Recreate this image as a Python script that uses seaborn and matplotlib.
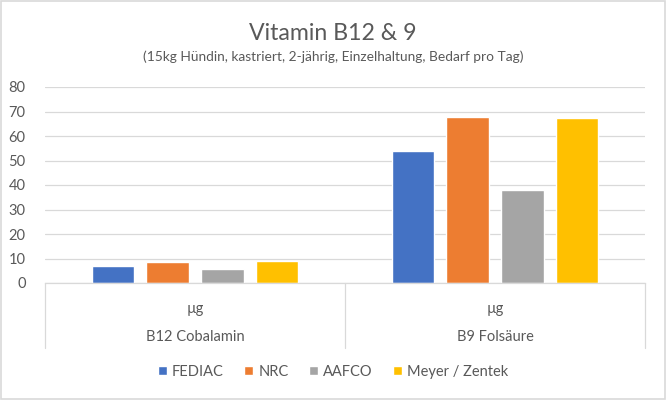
import matplotlib
matplotlib.use("Agg")
import matplotlib.pyplot as plt
import pandas as pd
import seaborn as sns

# data
vitamins = ["B12 Cobalamin", "B9 Folsäure"]
unit = "µg"
sources = ["FEDIAC", "NRC", "AAFCO", "Meyer / Zentek"]
fediac = [6.8, 54.0]
nrc = [8.5, 67.9]
aafco = [5.6, 38.0]
meyer = [8.9, 67.5]
colors = ["#4472C4", "#ED7D31", "#A5A5A5", "#FFC000"]

rows = []
for src, vals in zip(sources, [fediac, nrc, aafco, meyer]):
    for vit, v in zip(vitamins, vals):
        rows.append({"Vitamin": vit, "Quelle": src, "Wert": v})
df = pd.DataFrame(rows)

sns.set_style("white")
plt.rcParams["font.family"] = ["Lato", "DejaVu Sans"]
text_col = "#595959"
grid_col = "#d9d9d9"
fs = 10.5

fig = plt.figure(figsize=(6.66, 4.0), dpi=100)
ax = fig.add_axes([45 / 666, 1 - 283 / 400, 600 / 666, 196 / 400])

sns.barplot(
    data=df, x="Vitamin", y="Wert", hue="Quelle",
    order=vitamins, hue_order=sources, palette=colors,
    width=0.727, gap=0.22, saturation=1, ax=ax, legend=True,
)

ax.set_xlim(-0.5, 1.5)
ax.set_ylim(0, 80)
ax.set_yticks(range(0, 81, 10))
ax.yaxis.grid(True, color=grid_col, linewidth=0.9)
ax.set_axisbelow(True)
for side in ["left", "right", "top"]:
    ax.spines[side].set_visible(False)
ax.spines["bottom"].set_color(grid_col)
ax.spines["bottom"].set_linewidth(0.9)
ax.tick_params(axis="y", length=0, labelsize=fs, labelcolor=text_col, pad=14)
ax.set_xticks(range(len(vitamins)))
ax.set_xticklabels([unit] * len(vitamins))
ax.tick_params(axis="x", length=0, labelsize=fs, labelcolor=text_col, pad=14)
ax.set_xlabel("")
ax.set_ylabel("")

# second category level and dividers
tr = ax.get_xaxis_transform()
for i, vit in enumerate(vitamins):
    ax.text(i, -54 / 196, vit, transform=tr, ha="center", va="center",
            fontsize=fs, color=text_col)
for x in [-0.5, 0.5, 1.5]:
    ax.plot([x, x], [0, -65 / 196], transform=tr, color=grid_col,
            linewidth=0.9, clip_on=False)

handles, labels = ax.get_legend_handles_labels()
ax.legend(handles, labels, loc="center", bbox_to_anchor=(0.5, 1 - 372 / 400),
          bbox_transform=fig.transFigure, ncol=4, frameon=False,
          fontsize=fs, labelcolor=text_col, handlelength=0.6, handleheight=0.6,
          handletextpad=0.35, columnspacing=1.4)

fig.text(0.5, 1 - 40 / 400, "Vitamin B12 & 9", ha="center", va="baseline",
         fontsize=16.7, color=text_col)
fig.text(0.5, 1 - 61 / 400,
         "(15kg Hündin, kastriert, 2-jährig, Einzelhaltung, Bedarf pro Tag)",
         ha="center", va="baseline", fontsize=9.9, color=text_col)

fig.patches.append(plt.Rectangle((0.002, 0.003), 0.996, 0.994,
                                 transform=fig.transFigure, fill=False,
                                 edgecolor=grid_col, linewidth=1.2))

fig.savefig("out.png", dpi=100)
